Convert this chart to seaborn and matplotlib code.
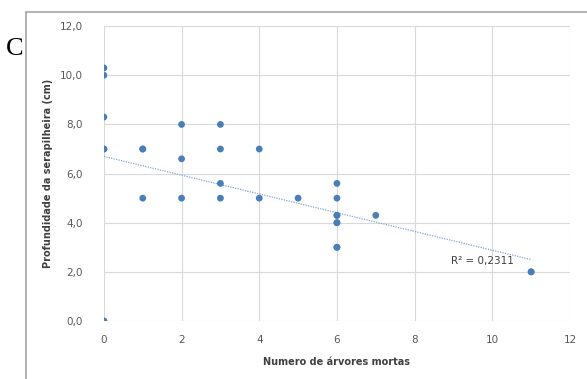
import numpy as np
import pandas as pd
import seaborn as sns
import matplotlib.pyplot as plt

# Dead trees per plot and litter depth (cm); several plots share identical values
arvores_mortas = [0, 0, 0, 0, 0, 0, 0, 1, 1, 1, 2, 2, 2, 3, 3, 3, 3, 4, 4, 5,
                  6, 6, 6, 6, 6, 6, 6, 6, 7, 11, 11]
profundidade = [10.3, 10.0, 8.3, 7.0, 7.0, 0.0, 0.0, 7.0, 7.0, 5.0, 8.0, 6.6, 5.0,
                8.0, 7.0, 5.6, 5.0, 7.0, 5.0, 5.0,
                5.6, 5.0, 4.3, 4.3, 4.0, 4.0, 3.0, 3.0, 4.3, 2.0, 2.0]
x_ticks = [0, 2, 4, 6, 8, 10, 12]
y_ticks = [0, 2, 4, 6, 8, 10, 12]
r2_label = "R² = 0,2311"
panel_letter = "C"

df = pd.DataFrame({"x": arvores_mortas, "y": profundidade})

sns.set_theme(style="white")
plt.rcParams["font.family"] = ["DejaVu Sans"]

fig = plt.figure(figsize=(5.87, 3.79), dpi=100)
ax = fig.add_axes([0.177, 0.153, 0.794, 0.778])

blue = "#4a7ebb"
sns.regplot(data=df, x="x", y="y", ax=ax, ci=None, truncate=True,
            scatter_kws=dict(s=24, color=blue, edgecolor="none", alpha=1, zorder=3),
            line_kws=dict(color="#7fa7d6", lw=0.9, ls=(0, (1, 1)), zorder=2))

ax.set_xlim(0, 12)
ax.set_ylim(0, 12)
ax.set_xticks(x_ticks)
ax.set_yticks(y_ticks)
ax.set_xticklabels([str(t) for t in x_ticks])
ax.set_yticklabels([f"{t:.1f}".replace(".", ",") for t in y_ticks])
ax.tick_params(axis="x", length=0, labelsize=7.5, colors="#595959", pad=10)
ax.tick_params(axis="y", length=0, labelsize=7.5, colors="#595959", pad=15)
ax.grid(True, color="#d9d9d9", lw=0.8)
ax.set_axisbelow(True)
for s in ax.spines.values():
    s.set_visible(False)

ax.set_xlabel("Numero de árvores mortas", fontsize=7, fontweight="bold", color="#404040", labelpad=9)
ax.set_ylabel("Profundidade da serapilheira (cm)", fontsize=7, fontweight="bold", color="#404040", labelpad=5)

ax.text(9.75, 2.45, r2_label, fontsize=7.5, color="#404040", ha="center", va="center")

# Chart frame
fig.add_artist(plt.Line2D([26 / 587, 26 / 587], [0, 1 - 12 / 379], transform=fig.transFigure,
                          color="#a6a6a6", lw=1.2))
fig.add_artist(plt.Line2D([26 / 587, 1], [1 - 12 / 379, 1 - 12 / 379], transform=fig.transFigure,
                          color="#a6a6a6", lw=1.2))

fig.text(6 / 587, 1 - 49 / 379, panel_letter, fontsize=19, family="Liberation Serif",
         color="black", ha="left", va="center")

fig.savefig("out.png", dpi=100)
